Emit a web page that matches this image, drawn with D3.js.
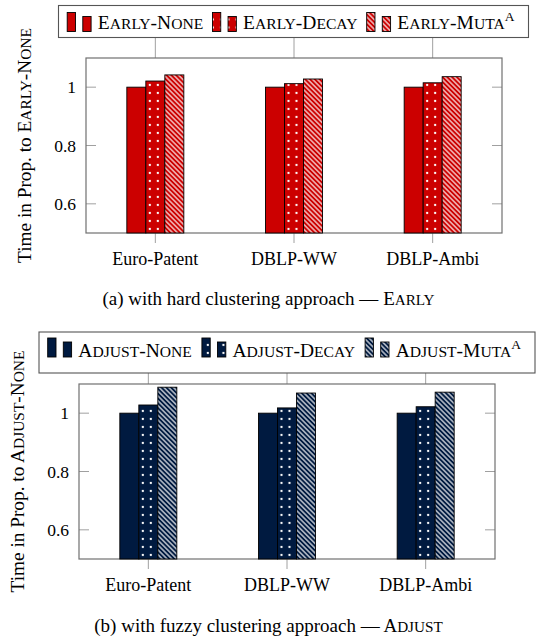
<!DOCTYPE html>
<html><head><meta charset="utf-8">
<script src="https://cdn.jsdelivr.net/npm/d3@7"></script>
<style>body{margin:0;background:#fff} svg{display:block}</style>
</head><body>
<svg id="c" width="537" height="642"></svg>
<script>
const categories = ["Euro-Patent", "DBLP-WW", "DBLP-Ambi"];
const earlyNone   = [1.000, 1.000, 1.000];
const earlyDecay  = [1.021, 1.012, 1.015];
const earlyMuta   = [1.042, 1.028, 1.036];
const adjustNone  = [1.000, 1.000, 1.000];
const adjustDecay = [1.028, 1.018, 1.022];
const adjustMuta  = [1.089, 1.069, 1.072];
const yTicks = [0.6, 0.8, 1];
const yDomain = [0.5, 1.1];
const earlySeries  = ["Early-None", "Early-Decay", "Early-Muta"];
const adjustSeries = ["Adjust-None", "Adjust-Decay", "Adjust-Muta"];

const svg = d3.select("#c");
const defs = svg.append("defs");
const FONT = "'Liberation Serif','Times New Roman',serif";
let pid = 0;

function scText(sel, str, size) {
  const runs = [];
  for (const ch of str) {
    const small = ch !== ch.toUpperCase();
    if (runs.length && runs[runs.length - 1].small === small) runs[runs.length - 1].t += ch;
    else runs.push({ small, t: ch });
  }
  runs.forEach(r => sel.append("tspan").attr("font-size", r.small ? size * 0.8 : size).text(r.t.toUpperCase()));
}
function dotsPattern(color, x, y) {
  const id = "dots" + (pid++);
  const p = defs.append("pattern").attr("id", id).attr("patternUnits", "userSpaceOnUse")
    .attr("x", x).attr("y", y).attr("width", 8).attr("height", 8);
  p.append("rect").attr("width", 8).attr("height", 8).attr("fill", color);
  p.append("circle").attr("cx", 4).attr("cy", 4).attr("r", 1.15).attr("fill", "#fff");
  return `url(#${id})`;
}
function hatchPattern(color) {
  const id = "hatch" + (pid++);
  const s = 3.4;
  const p = defs.append("pattern").attr("id", id).attr("patternUnits", "userSpaceOnUse")
    .attr("width", s).attr("height", s).attr("patternTransform", "rotate(-45)");
  p.append("rect").attr("width", s).attr("height", s).attr("fill", color);
  p.append("line").attr("x1", s / 2).attr("x2", s / 2).attr("y1", -1).attr("y2", s + 1)
    .attr("stroke", "#fff").attr("stroke-width", 1.1);
  return `url(#${id})`;
}
function fillFor(kind, color, hatch, x, yb) {
  if (kind === 0) return color;
  if (kind === 1) return dotsPattern(color, x, yb);
  return hatch;
}

function panel(cfg) {
  const g = svg.append("g");
  const y = d3.scaleLinear().domain(yDomain).range([cfg.bottom, cfg.top]);
  const x = d3.scaleBand().domain(categories).range([cfg.left, cfg.right]);
  const groupW = 57;
  const x1 = d3.scaleBand().domain(cfg.series).range([-groupW / 2, groupW / 2]);
  const hatch = hatchPattern(cfg.color);
  const [bx, by, bw, bh] = cfg.legend;
  const tickColor = "#a0a0a0";

  yTicks.forEach(t => {
    g.append("line").attr("x1", cfg.left).attr("x2", cfg.left + 10).attr("y1", y(t)).attr("y2", y(t))
      .attr("stroke", tickColor).attr("stroke-width", 1);
    g.append("line").attr("x1", cfg.right - 10).attr("x2", cfg.right).attr("y1", y(t)).attr("y2", y(t))
      .attr("stroke", tickColor).attr("stroke-width", 1);
    g.append("text").attr("x", cfg.left - 10).attr("y", y(t)).attr("dy", "0.35em")
      .attr("text-anchor", "end").attr("font-family", FONT).attr("font-size", 17.5).text(String(t));
  });
  categories.forEach(c => {
    const cx = x(c) + x.bandwidth() / 2;
    g.append("line").attr("x1", cx).attr("x2", cx).attr("y1", cfg.bottom).attr("y2", cfg.bottom + 10)
      .attr("stroke", tickColor).attr("stroke-width", 1);
    g.append("line").attr("x1", cx).attr("x2", cx).attr("y1", by + bh).attr("y2", cfg.top)
      .attr("stroke", tickColor).attr("stroke-width", 1);
    g.append("text").attr("x", cx).attr("y", cfg.bottom + 32).attr("text-anchor", "middle")
      .attr("font-family", FONT).attr("font-size", 18).text(c);
  });
  g.append("rect").attr("x", cfg.left).attr("y", cfg.top).attr("width", cfg.right - cfg.left)
    .attr("height", cfg.bottom - cfg.top).attr("fill", "none").attr("stroke", "#707070").attr("stroke-width", 1.2);

  cfg.values.forEach((vals, si) => {
    vals.forEach((v, ci) => {
      const c = categories[ci];
      const bx0 = x(c) + x.bandwidth() / 2 + x1(cfg.series[si]);
      g.append("rect").attr("x", bx0).attr("y", y(v)).attr("width", x1.bandwidth())
        .attr("height", y(yDomain[0]) - y(v))
        .attr("fill", fillFor(si, cfg.color, hatch, bx0, cfg.bottom))
        .attr("stroke", "#000").attr("stroke-width", 0.9);
    });
  });

  const lg = svg.append("g");
  lg.append("rect").attr("x", bx).attr("y", by).attr("width", bw).attr("height", bh)
    .attr("fill", "#fff").attr("stroke", "#555").attr("stroke-width", 1.1);
  const swBottom = by + cfg.swOff;
  const LF = 19.5;
  const items = cfg.series.map((s, i) => {
    const ig = lg.append("g");
    [[0, 19], [15.6, 15]].forEach(([ox, h]) => {
      ig.append("rect").attr("x", ox).attr("y", swBottom - h).attr("width", 8.3).attr("height", h)
        .attr("stroke", "#000").attr("stroke-width", 0.9).attr("data-ox", ox);
    });
    const t = ig.append("text").attr("x", 30.6).attr("y", by + cfg.txtOff)
      .attr("font-family", FONT).attr("font-size", LF);
    scText(t, s, LF);
    if (i === 2) t.append("tspan").attr("font-size", 13.5).attr("dy", -8).text("A");
    return { ig, w: 30.6 + t.node().getComputedTextLength(), i };
  });
  const total = d3.sum(items, d => d.w);
  const gap = (bw - 8.7 - 14 - total) / 2;
  let cx = bx + 8.7;
  items.forEach(it => {
    const ox0 = cx;
    it.ig.attr("transform", `translate(${cx},0)`);
    it.ig.selectAll("rect").each(function () {
      const r = d3.select(this);
      const ax = ox0 + (+r.attr("data-ox"));
      r.attr("fill", fillFor(it.i, cfg.color, hatch, ax, swBottom));
    });
    cx += it.w + gap;
  });

  const mid = (cfg.top + cfg.bottom) / 2;
  const yl = svg.append("text").attr("transform", `translate(${cfg.left - 55},${mid}) rotate(-90)`)
    .attr("text-anchor", "middle").attr("font-family", FONT).attr("font-size", 19.3);
  yl.append("tspan").text("Time in Prop. to ");
  scText(yl, cfg.series[0], 19.3);

  const cap = svg.append("text").attr("x", 268.5).attr("y", cfg.captionY).attr("text-anchor", "middle")
    .attr("font-family", FONT).attr("font-size", 19);
  cap.append("tspan").text(cfg.caption);
  scText(cap, cfg.captionSc, 19);
}

panel({
  left: 86, right: 502, top: 58, bottom: 233,
  legend: [58.5, 5.5, 470, 32], swOff: 26, txtOff: 23.5,
  color: "#cc0000",
  series: earlySeries,
  values: [earlyNone, earlyDecay, earlyMuta],
  caption: "(a) with hard clustering approach \u2014 ", captionSc: "Early", captionY: 305
});
panel({
  left: 79, right: 495, top: 384, bottom: 559,
  legend: [39, 332, 496, 41], swOff: 25, txtOff: 24.5,
  color: "#001a40",
  series: adjustSeries,
  values: [adjustNone, adjustDecay, adjustMuta],
  caption: "(b) with fuzzy clustering approach \u2014 ", captionSc: "Adjust", captionY: 632
});
</script>
</body></html>
